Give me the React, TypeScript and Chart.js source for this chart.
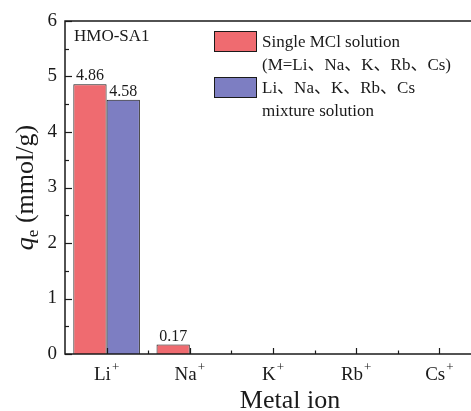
import React, { useEffect, useRef } from 'react';
import { Chart, registerables } from 'chart.js';

Chart.register(...registerables);

const categories = ['Li', 'Na', 'K', 'Rb', 'Cs'];
const charges = ['+', '+', '+', '+', '+'];
const singleValues = [4.86, 0.17, 0, 0, 0];
const mixtureValues = [4.58, 0, 0, 0, 0];
const singleLabels = ['4.86', '0.17', '', '', ''];
const mixtureLabels = ['4.58', '', '', '', ''];
const seriesNames = ['Single MCl solution', 'Li、Na、K、Rb、Cs mixture solution'];
const legendLines = [
  ['Single MCl solution', '(M=Li、Na、K、Rb、Cs)'],
  ['Li、Na、K、Rb、Cs', 'mixture solution'],
];
const sampleName = 'HMO-SA1';
const xTitle = 'Metal ion';
const yMin = 0;
const yMax = 6;

const SERIF = '"Liberation Serif", "Times New Roman", "Noto Sans CJK SC", serif';
const RED = '#EF6B70';
const BLUE = '#7D7EC2';
const INK = '#1a1a1a';

const overlay = {
  id: 'overlay',
  afterDatasetsDraw(chart: any) {
    const { ctx, chartArea, scales } = chart;
    const { left, right, top, bottom } = chartArea;
    const x = scales.x;
    const y = scales.y;
    ctx.save();

    // data labels
    ctx.fillStyle = INK;
    ctx.font = `16px ${SERIF}`;
    ctx.textAlign = 'center';
    ctx.textBaseline = 'alphabetic';
    const labelSets = [singleLabels, mixtureLabels];
    labelSets.forEach((labels, di) => {
      const meta = chart.getDatasetMeta(di);
      meta.data.forEach((bar: any, i: number) => {
        if (!labels[i]) return;
        ctx.fillText(labels[i], bar.x, bar.y - 4);
      });
    });

    // frame
    ctx.strokeStyle = INK;
    ctx.lineWidth = 1.5;
    ctx.strokeRect(left, top, right - left, bottom - top);

    // inward y ticks
    ctx.lineWidth = 1.2;
    for (let v = yMin; v <= yMax + 1e-9; v += 0.5) {
      const py = Math.round(y.getPixelForValue(v)) + 0.5;
      const major = Math.abs(v - Math.round(v)) < 1e-9;
      ctx.beginPath();
      ctx.moveTo(left, py);
      ctx.lineTo(left + (major ? 7 : 4), py);
      ctx.stroke();
    }
    // inward x ticks
    for (let i = 0; i < categories.length; i++) {
      const px = Math.round(x.getPixelForValue(i)) + 0.5;
      ctx.beginPath();
      ctx.moveTo(px, bottom);
      ctx.lineTo(px, bottom - 6);
      ctx.stroke();
      if (i < categories.length - 1) {
        const mx = Math.round((x.getPixelForValue(i) + x.getPixelForValue(i + 1)) / 2) + 0.5;
        ctx.beginPath();
        ctx.moveTo(mx, bottom);
        ctx.lineTo(mx, bottom - 3.5);
        ctx.stroke();
      }
    }

    // x tick labels with superscript charge
    ctx.textAlign = 'left';
    for (let i = 0; i < categories.length; i++) {
      const cx = x.getPixelForValue(i);
      ctx.font = `19px ${SERIF}`;
      const w1 = ctx.measureText(categories[i]).width;
      ctx.font = `13px ${SERIF}`;
      const w2 = ctx.measureText(charges[i]).width;
      const sx = cx - (w1 + w2 + 1) / 2;
      ctx.font = `19px ${SERIF}`;
      ctx.fillText(categories[i], sx, bottom + 26);
      ctx.font = `13px ${SERIF}`;
      ctx.fillText(charges[i], sx + w1 + 1, bottom + 17);
    }

    // x title
    ctx.textAlign = 'center';
    ctx.font = `26px ${SERIF}`;
    ctx.fillText(xTitle, 290, 408);

    // y title: q_e (mmol/g)
    ctx.save();
    ctx.translate(33, (top + bottom) / 2);
    ctx.rotate(-Math.PI / 2);
    ctx.textAlign = 'left';
    const fq = `italic 26px ${SERIF}`;
    const fe = `17px ${SERIF}`;
    const fr = `26px ${SERIF}`;
    ctx.font = fq;
    const wq = ctx.measureText('q').width;
    ctx.font = fe;
    const we = ctx.measureText('e').width;
    ctx.font = fr;
    const wr = ctx.measureText(' (mmol/g)').width;
    let tx = -(wq + we + wr) / 2;
    ctx.font = fq;
    ctx.fillText('q', tx, 0);
    tx += wq;
    ctx.font = fe;
    ctx.fillText('e', tx, 5);
    tx += we;
    ctx.font = fr;
    ctx.fillText(' (mmol/g)', tx, 0);
    ctx.restore();

    // sample name
    ctx.textAlign = 'left';
    ctx.font = `17px ${SERIF}`;
    ctx.fillText(sampleName, 74, 41);

    // legend
    const colors = [RED, BLUE];
    const boxY = [31, 77];
    ctx.lineWidth = 1;
    legendLines.forEach((lines, k) => {
      ctx.fillStyle = colors[k];
      ctx.fillRect(214, boxY[k], 42, 20);
      ctx.strokeStyle = INK;
      ctx.strokeRect(214.5, boxY[k] + 0.5, 42, 20);
      ctx.fillStyle = INK;
      ctx.font = `17px ${SERIF}`;
      lines.forEach((t, j) => {
        ctx.fillText(t, 262, boxY[k] + 16 + j * 23);
      });
    });

    ctx.restore();
  },
};

export default function App() {
  const ref = useRef<HTMLCanvasElement | null>(null);
  useEffect(() => {
    if (!ref.current) return;
    const chart = new Chart(ref.current, {
      type: 'bar',
      data: {
        labels: categories.map((c, i) => c + charges[i]),
        datasets: [
          {
            label: seriesNames[0],
            data: singleValues,
            backgroundColor: RED,
            borderColor: INK,
            borderWidth: 1,
            categoryPercentage: 0.8,
            barPercentage: 1,
          },
          {
            label: seriesNames[1],
            data: mixtureValues,
            backgroundColor: BLUE,
            borderColor: INK,
            borderWidth: 1,
            categoryPercentage: 0.8,
            barPercentage: 1,
          },
        ],
      },
      options: {
        responsive: false,
        animation: false,
        devicePixelRatio: 1,
        layout: { padding: { left: 0, right: 19, top: 21, bottom: 57 } },
        plugins: {
          legend: { display: false },
          tooltip: { enabled: false },
        },
        scales: {
          x: {
            display: false,
            offset: true,
            grid: { display: false },
          },
          y: {
            min: yMin,
            max: yMax,
            grid: { display: false, drawTicks: false },
            border: { display: false },
            ticks: {
              stepSize: 1,
              padding: 8,
              color: INK,
              font: { family: SERIF, size: 19 },
            },
            afterFit: (scale: any) => {
              scale.width = 65;
            },
          },
        },
      },
      plugins: [overlay],
    });
    return () => chart.destroy();
  }, []);

  return (
    <div
      style={{
        position: 'fixed',
        left: 0,
        top: 0,
        width: 471,
        height: 411,
        overflow: 'hidden',
        background: '#fff',
      }}
    >
      <canvas ref={ref} width={500} height={411} style={{ display: 'block' }} />
    </div>
  );
}
